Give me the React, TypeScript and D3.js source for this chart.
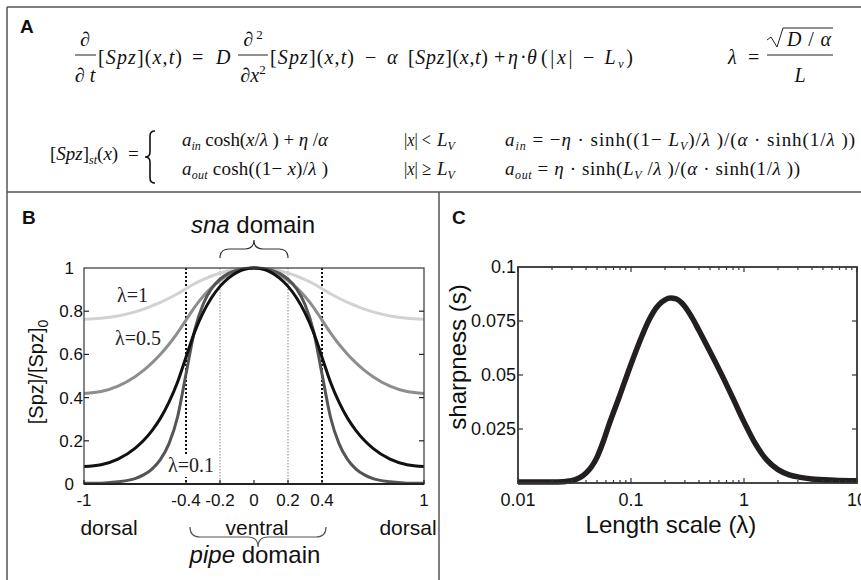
import React from "react";
import * as d3 from "d3";

// ---------- Panel B data: normalized steady-state profiles ----------
const xPositions = [-1, -0.9, -0.8, -0.7, -0.65, -0.6, -0.55, -0.5, -0.45, -0.4, -0.35, -0.3, -0.25, -0.2, -0.15, -0.1, 0,
  0.1, 0.15, 0.2, 0.25, 0.3, 0.35, 0.4, 0.45, 0.5, 0.55, 0.6, 0.65, 0.7, 0.8, 0.9, 1];
const profileLambda1 = [0.763, 0.767, 0.778, 0.797, 0.81, 0.825, 0.841, 0.86, 0.881, 0.904, 0.927, 0.946, 0.963, 0.976, 0.987, 0.994, 1,
  0.994, 0.987, 0.976, 0.963, 0.946, 0.927, 0.904, 0.881, 0.86, 0.841, 0.825, 0.81, 0.797, 0.778, 0.767, 0.763];
const profileLambda05 = [0.419, 0.428, 0.453, 0.497, 0.526, 0.561, 0.601, 0.647, 0.7, 0.759, 0.818, 0.868, 0.909, 0.942, 0.968, 0.986, 1,
  0.986, 0.968, 0.942, 0.909, 0.868, 0.818, 0.759, 0.7, 0.647, 0.601, 0.561, 0.526, 0.497, 0.453, 0.428, 0.419];
const profileLambdaMid = [0.081, 0.089, 0.115, 0.165, 0.201, 0.247, 0.305, 0.379, 0.471, 0.587, 0.702, 0.792, 0.862, 0.915, 0.953, 0.98, 1,
  0.98, 0.953, 0.915, 0.862, 0.792, 0.702, 0.587, 0.471, 0.379, 0.305, 0.247, 0.201, 0.165, 0.115, 0.089, 0.081];
const profileLambda01 = [0.003, 0.004, 0.01, 0.025, 0.042, 0.069, 0.114, 0.187, 0.309, 0.509, 0.709, 0.831, 0.904, 0.948, 0.975, 0.99, 1,
  0.99, 0.975, 0.948, 0.904, 0.831, 0.709, 0.509, 0.309, 0.187, 0.114, 0.069, 0.042, 0.025, 0.01, 0.004, 0.003];
const xTicksB = [-1, -0.4, -0.2, 0, 0.2, 0.4, 1];
const xTickLabelsB = ["-1", "-0.4", "-0.2", "0", "0.2", "0.4", "1"];
const yTicksB = [0, 0.2, 0.4, 0.6, 0.8, 1];
const yTickLabelsB = ["0", "0.2", "0.4", "0.6", "0.8", "1"];
const lvBounds = [-0.4, 0.4];
const snaBounds = [-0.2, 0.2];

// ---------- Panel C data: sharpness vs length scale ----------
const lengthScales = [0.01, 0.02, 0.0251, 0.0282, 0.0316, 0.0355, 0.0398, 0.0447, 0.0501, 0.0562, 0.0631, 0.0794, 0.1, 0.126, 0.1413,
  0.158, 0.1778, 0.2, 0.224, 0.251, 0.2818, 0.316, 0.3548, 0.398, 0.501, 0.631, 0.794, 1, 1.26, 1.58, 2.0, 2.51, 3.16, 3.98, 6.31, 10];
const sharpness = [0.0005, 0.0005, 0.0006, 0.0009, 0.0014, 0.0026, 0.0045, 0.0075, 0.012, 0.0185, 0.0262, 0.0404, 0.055, 0.0685, 0.0745,
  0.0792, 0.0827, 0.0848, 0.0856, 0.0852, 0.0833, 0.08, 0.0757, 0.0708, 0.0608, 0.0504, 0.0395, 0.0283, 0.0182, 0.0108, 0.0062, 0.0038,
  0.0026, 0.0019, 0.0013, 0.001];
const xTicksC = [0.01, 0.1, 1, 10];
const xTickLabelsC = ["0.01", "0.1", "1", "10"];
const yTicksC = [0.025, 0.05, 0.075, 0.1];
const yTickLabelsC = ["0.025", "0.05", "0.075", "0.1"];

const serif = "'Liberation Serif', 'Times New Roman', serif";
const sans = "'Liberation Sans', Arial, Helvetica, sans-serif";

function hBrace(x1: number, x2: number, y: number, s: number, q: number) {
  const xm = (x1 + x2) / 2;
  const y0 = y - s * q;
  return `M${x1},${y0} Q${x1},${y} ${x1 + q},${y} L${xm - q},${y} Q${xm},${y} ${xm},${y + s * q} Q${xm},${y} ${xm + q},${y} L${x2 - q},${y} Q${x2},${y} ${x2},${y0}`;
}
function vBrace(x: number, y1: number, y2: number, q: number) {
  const ym = (y1 + y2) / 2;
  return `M${x + q},${y1} Q${x},${y1} ${x},${y1 + q} L${x},${ym - q} Q${x},${ym} ${x - q},${ym} Q${x},${ym} ${x},${ym + q} L${x},${y2 - q} Q${x},${y2} ${x + q},${y2}`;
}

const It = ({ children }: { children: React.ReactNode }) => <tspan fontStyle="italic">{children}</tspan>;

export default function App() {
  const xB = d3.scaleLinear().domain([-1, 1]).range([84, 424]);
  const yB = d3.scaleLinear().domain([0, 1]).range([484, 268]);
  const xC = d3.scaleLog().domain([0.01, 10]).range([518, 857]);
  const yC = d3.scaleLinear().domain([0, 0.1]).range([483, 267]);

  const lineB = d3.line<number>().x((_, i) => xB(xPositions[i])).y((d) => yB(d)).curve(d3.curveMonotoneX);
  const lineC = d3.line<number>().x((_, i) => xC(lengthScales[i])).y((d) => yC(d)).curve(d3.curveMonotoneX);
  const minorC = xC.ticks();

  const fracStroke = { stroke: "#222", strokeWidth: 1 };
  const r1 = 64; // row 1 baseline
  const rA = 146, rB = 175, rM = 160;

  return (
    <svg width={861} height={580} style={{ position: "absolute", left: 0, top: 0, background: "#fff" }}>
      <rect x={0} y={0} width={861} height={580} fill="#fff" />
      {/* frame */}
      <line x1={7} y1={7} x2={861} y2={7} stroke="#555" strokeWidth={1.5} />
      <line x1={7} y1={7} x2={7} y2={580} stroke="#555" strokeWidth={1.5} />
      <line x1={7} y1={192} x2={861} y2={192} stroke="#555" strokeWidth={1.5} />
      <line x1={439} y1={192} x2={439} y2={580} stroke="#555" strokeWidth={1.5} />

      <g fontFamily={sans} fontWeight="bold" fontSize={19} fill="#111">
        <text x={20} y={33}>A</text>
        <text x={22} y={224}>B</text>
        <text x={452} y={224}>C</text>
      </g>

      {/* ---------- Panel A equations ---------- */}
      <g fontFamily={serif} fontSize={20} fill="#111">
        <text x={85} y={46} textAnchor="middle">∂</text>
        <line x1={75} x2={96} y1={55} y2={55} {...fracStroke} />
        <text x={85} y={82} textAnchor="middle">∂ <It>t</It></text>
        <text x={98} y={r1} textLength={84} lengthAdjust="spacing">[<It>Spz</It>](<It>x</It>,<It>t</It>)</text>
        <text x={192} y={r1}>=</text>
        <text x={216} y={r1}><It>D</It></text>
        <text x={253} y={46} textAnchor="middle">∂<tspan dy={-7} fontSize={13}> 2</tspan></text>
        <line x1={238} x2={268} y1={55} y2={55} {...fracStroke} />
        <text x={253} y={82} textAnchor="middle">∂<It>x</It><tspan dy={-8} fontSize={13}>2</tspan></text>
        <text x={270} y={r1} textLength={84} lengthAdjust="spacing">[<It>Spz</It>](<It>x</It>,<It>t</It>)</text>
        <text x={365} y={r1}>−</text>
        <text x={387} y={r1}><It>α</It></text>
        <text x={408} y={r1} textLength={80} lengthAdjust="spacing">[<It>Spz</It>](<It>x</It>,<It>t</It>)</text>
        <text x={494} y={r1}>+</text>
        <text x={508} y={r1}><It>η</It></text>
        <text x={520} y={r1}>·</text>
        <text x={527} y={r1}><It>θ</It></text>
        <text x={541} y={r1} textLength={92} lengthAdjust="spacing">(|<It>x</It>| − <It>L</It><tspan dy={4} fontSize={12} fontStyle="italic">v</tspan><tspan dy={-4}>)</tspan></text>
        <text x={728} y={r1}><It>λ</It></text>
        <text x={748} y={r1}>=</text>
        <path d="M767,40 L771,37 L777,47 L783,28 L833,28" fill="none" stroke="#222" strokeWidth={1} />
        <text x={787} y={46} textLength={44} lengthAdjust="spacing"><It>D</It> / <It>α</It></text>
        <line x1={767} x2={833} y1={55} y2={55} {...fracStroke} />
        <text x={800} y={82} textAnchor="middle"><It>L</It></text>
      </g>
      <g fontFamily={serif} fontSize={19} fill="#111">
        <text x={50} y={rM}>[<It>Spz</It>]<tspan dy={4} fontSize={12} fontStyle="italic">st</tspan><tspan dy={-4}>(</tspan><It>x</It>)</text>
        <text x={128} y={rM}>=</text>
        <path d={vBrace(150, 131, 183, 5)} fill="none" stroke="#111" strokeWidth={1.6} />
        <text x={182} y={rA} textLength={146} lengthAdjust="spacing"><It>a</It><tspan dy={4} fontSize={12} fontStyle="italic">in</tspan><tspan dy={-4}> cosh(</tspan><It>x</It>/<It>λ</It> ) +  <It>η</It> /<It>α</It></text>
        <text x={182} y={rB} textLength={146} lengthAdjust="spacing"><It>a</It><tspan dy={4} fontSize={12} fontStyle="italic">out</tspan><tspan dy={-4}> cosh((1− </tspan><It>x</It>)/<It>λ</It> )</text>
        <text x={404} y={rA} textLength={27} lengthAdjust="spacingAndGlyphs">|<It>x</It>| &lt;</text>
        <text x={404} y={rB} textLength={27} lengthAdjust="spacingAndGlyphs">|<It>x</It>| ≥</text>
        <text x={437} y={rA}><It>L</It><tspan dy={4} fontSize={12} fontStyle="italic">V</tspan></text>
        <text x={437} y={rB}><It>L</It><tspan dy={4} fontSize={12} fontStyle="italic">V</tspan></text>
        <text x={505} y={rA} textLength={350} lengthAdjust="spacing"><It>a</It><tspan dy={4} fontSize={12} fontStyle="italic">in</tspan><tspan dy={-4}> = −</tspan><It>η</It> · sinh((1− <It>L</It><tspan dy={4} fontSize={12} fontStyle="italic">V</tspan><tspan dy={-4}>)/</tspan><It>λ</It> )/(<It>α</It> · sinh(1/<It>λ</It> ))</text>
        <text x={505} y={rB} textLength={295} lengthAdjust="spacing"><It>a</It><tspan dy={4} fontSize={12} fontStyle="italic">out</tspan><tspan dy={-4}> =   </tspan><It>η</It> · sinh(<It>L</It><tspan dy={4} fontSize={12} fontStyle="italic">V</tspan><tspan dy={-4}> /</tspan><It>λ</It> )/(<It>α</It> · sinh(1/<It>λ</It> ))</text>
      </g>

      {/* ---------- Panel B ---------- */}
      <g>
        {snaBounds.map((v) => (
          <line key={"s" + v} x1={xB(v)} x2={xB(v)} y1={yB(1)} y2={yB(0)} stroke="#999" strokeWidth={1.2} strokeDasharray="1.5,1.5" />
        ))}
        {lvBounds.map((v) => (
          <line key={"l" + v} x1={xB(v)} x2={xB(v)} y1={yB(1)} y2={yB(0)} stroke="#111" strokeWidth={2} strokeDasharray="2,2" />
        ))}
        <rect x={165} y={455} width={53} height={22} fill="#fff" />
        <path d={lineB(profileLambda1) || ""} fill="none" stroke="#d2d2d2" strokeWidth={3} />
        <path d={lineB(profileLambda05) || ""} fill="none" stroke="#8e8e8e" strokeWidth={3} />
        <path d={lineB(profileLambda01) || ""} fill="none" stroke="#555" strokeWidth={3} />
        <path d={lineB(profileLambdaMid) || ""} fill="none" stroke="#111" strokeWidth={3} />
        <rect x={84} y={268} width={340} height={216} fill="none" stroke="#444" strokeWidth={1.3} />
        <line x1={84} x2={424} y1={484} y2={484} stroke="#222" strokeWidth={2} />
        {yTicksB.slice(1, 5).map((v) => (
          <g key={"yt" + v}>
            <line x1={84} x2={89} y1={yB(v)} y2={yB(v)} stroke="#222" strokeWidth={1.2} />
            <line x1={419} x2={424} y1={yB(v)} y2={yB(v)} stroke="#222" strokeWidth={1.2} />
          </g>
        ))}
        {xTicksB.map((v) => (
          <line key={"xt" + v} x1={xB(v)} x2={xB(v)} y1={484} y2={480} stroke="#222" strokeWidth={1.2} />
        ))}
        <g fontFamily={sans} fontSize={17} fill="#111">
          {yTicksB.map((v, i) => (
            <text key={"yl" + v} x={v === 0 || v === 1 ? 74 : 83} y={yB(v)} dy="0.35em" textAnchor="end">{yTickLabelsB[i]}</text>
          ))}
          {xTicksB.map((v, i) => (
            <text key={"xl" + v} x={xB(v)} y={506} textAnchor="middle">{xTickLabelsB[i]}</text>
          ))}
        </g>
        <g fontFamily={serif} fontSize={20} fill="#222">
          <text x={117} y={302}>λ=1</text>
          <text x={115} y={345}>λ=0.5</text>
          <text x={168} y={472}>λ=0.1</text>
        </g>
        <g fontFamily={sans} fill="#111">
          <text x={253} y={233} fontSize={24} textAnchor="middle"><tspan fontStyle="italic">sna</tspan> domain</text>
          <text x={255} y={563} fontSize={24} textAnchor="middle"><tspan fontStyle="italic">pipe</tspan> domain</text>
          <text x={109} y={535} fontSize={21} textAnchor="middle">dorsal</text>
          <text x={257} y={535} fontSize={21} textAnchor="middle">ventral</text>
          <text x={408} y={535} fontSize={21} textAnchor="middle">dorsal</text>
          <text transform="translate(43,372) rotate(-90)" fontSize={20} textAnchor="middle">[Spz]/[Spz]<tspan dy={5} fontSize={14}>0</tspan></text>
        </g>
        <path d={hBrace(xB(snaBounds[0]), xB(snaBounds[1]), 249, -1, 9)} fill="none" stroke="#333" strokeWidth={1.2} />
        <path d={hBrace(190, 326, 537, 1, 10)} fill="none" stroke="#555" strokeWidth={1.2} />
      </g>

      {/* ---------- Panel C ---------- */}
      <g>
        <path d={lineC(sharpness) || ""} fill="none" stroke="#231f20" strokeWidth={5.5} strokeLinejoin="round" />
        <rect x={518} y={267} width={339} height={216} fill="none" stroke="#333" strokeWidth={1.8} />
        {minorC.map((v) => {
          const major = Math.abs(Math.log10(v) - Math.round(Math.log10(v))) < 1e-6;
          const len = major ? 5 : 3;
          return (
            <g key={"mc" + v}>
              <line x1={xC(v)} x2={xC(v)} y1={483} y2={483 - len} stroke="#333" strokeWidth={1.2} />
              <line x1={xC(v)} x2={xC(v)} y1={267} y2={267 + len} stroke="#333" strokeWidth={1.2} />
            </g>
          );
        })}
        {yTicksC.slice(0, 3).map((v) => (
          <g key={"yc" + v}>
            <line x1={518} x2={523} y1={yC(v)} y2={yC(v)} stroke="#333" strokeWidth={1.2} />
            <line x1={852} x2={857} y1={yC(v)} y2={yC(v)} stroke="#333" strokeWidth={1.2} />
          </g>
        ))}
        <g fontFamily={sans} fontSize={18} fill="#111">
          {yTicksC.map((v, i) => (
            <text key={"ycl" + v} x={516} y={yC(v)} dy="0.35em" textAnchor="end">{yTickLabelsC[i]}</text>
          ))}
          {xTicksC.map((v, i) => (
            <text key={"xcl" + v} x={xC(v)} y={506} textAnchor="middle">{xTickLabelsC[i]}</text>
          ))}
        </g>
        <g fontFamily={sans} fontSize={24} fill="#111">
          <text x={671} y={533} textAnchor="middle">Length scale (λ)</text>
          <text transform="translate(466,357) rotate(-90)" textAnchor="middle">sharpness (s)</text>
        </g>
      </g>
    </svg>
  );
}
